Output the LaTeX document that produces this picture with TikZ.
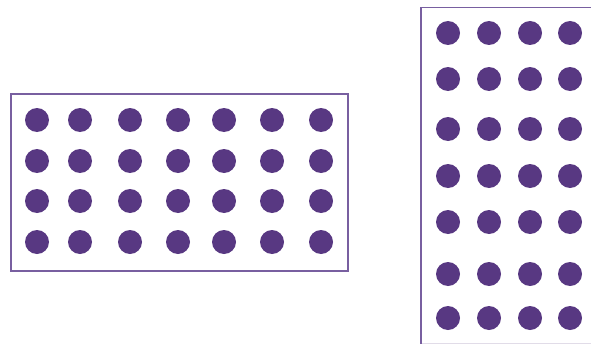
\documentclass[tikz,border=0pt]{standalone}
\definecolor{dotc}{RGB}{88,56,130}
\definecolor{framec}{RGB}{120,95,160}
\definecolor{faintc}{RGB}{225,220,232}
\tikzset{
  dot/.style={circle,fill=dotc,minimum size=24pt,inner sep=0pt},
  frame/.style={draw=framec,line width=1.6pt}
}
\begin{document}
\begin{tikzpicture}[x=1pt,y=-1pt]
\useasboundingbox (0,0) rectangle (591,345);
\begin{scope}
\clip (0,0) rectangle (591,345);
\draw[frame] (11,94) rectangle (348,271);
\draw[draw=faintc,line width=1pt] (421,343) -- (596,343);
\draw[frame] (421,343.5) -- (421,7.5) -- (596,7.5);
\foreach \x [count=\i] in {37,80,130,178,224,272,321}{
  \foreach \y [count=\j] in {120,161,201,242}{
    \node[dot] (L\i\j) at (\x,\y) {};
  }
}
\foreach \x [count=\i] in {448,489,530,570}{
  \foreach \y [count=\j] in {33,79,129,176,222,274,318}{
    \node[dot] (R\i\j) at (\x,\y) {};
  }
}
\end{scope}
\end{tikzpicture}
\end{document}
